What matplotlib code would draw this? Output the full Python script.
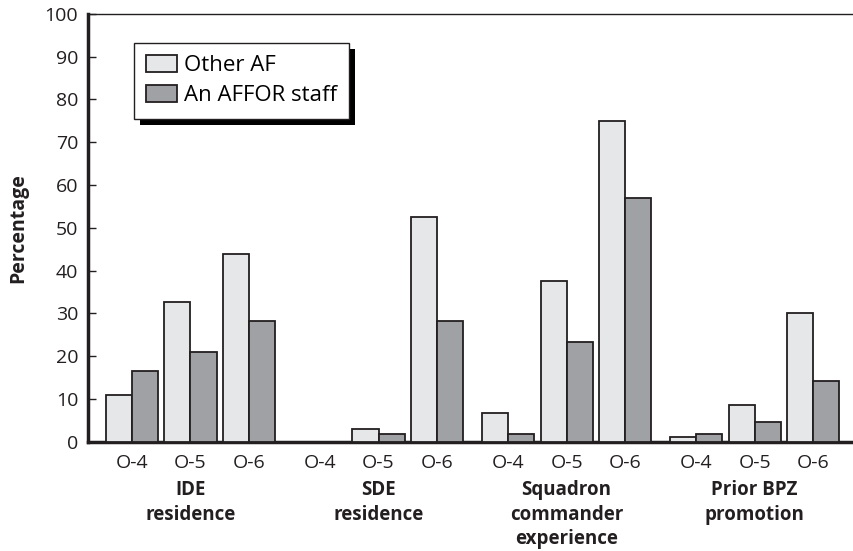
import numpy as np
import matplotlib.pyplot as plt
from matplotlib.patches import Rectangle
from matplotlib.transforms import IdentityTransform

plt.rcParams['font.family'] = ['Open Sans', 'DejaVu Sans']

groups = ['IDE\nresidence', 'SDE\nresidence', 'Squadron\ncommander\nexperience', 'Prior BPZ\npromotion']
grades = ['O-4', 'O-5', 'O-6']
other_af = [11.0, 32.7, 44.0, 0.0, 3.0, 52.5, 6.8, 37.5, 75.0, 1.2, 8.6, 30.0]
affor = [16.6, 21.0, 28.3, 0.0, 1.9, 28.3, 1.9, 23.3, 57.0, 1.9, 4.6, 14.3]

# pair positions: 1 unit between grades, a bit more between groups
gap = 1.214
pos = np.array([g * (2 + gap) + i for g in range(len(groups)) for i in range(len(grades))])
w = 0.445

fig = plt.figure(figsize=(8.54, 5.51), dpi=100)
ax = fig.add_axes([0.103, 0.198, 0.897, 0.777])

edge = '#231f20'
ax.bar(pos - w / 2, other_af, w, color='#e6e7e8', edgecolor=edge, linewidth=1.3, label='Other AF', zorder=3)
ax.bar(pos + w / 2, affor, w, color='#a0a1a4', edgecolor=edge, linewidth=1.3, label='An AFFOR staff', zorder=3)

ax.set_ylim(0, 100)
ax.set_xlim(-0.752, 12.34)
ax.set_yticks(range(0, 101, 10))
ax.set_xticks(pos)
ax.set_xticklabels(grades * len(groups))
ax.tick_params(axis='y', direction='in', length=6, width=1, labelsize=14, pad=7, colors=edge)
ax.tick_params(axis='x', length=0, labelsize=14, pad=9, colors=edge)

ax.spines['left'].set_linewidth(2.5)
ax.spines['bottom'].set_linewidth(2.5)
ax.spines['top'].set_linewidth(1)
ax.spines['right'].set_visible(False)
for s in ax.spines.values():
    s.set_color(edge)

ax.set_ylabel('Percentage', fontsize=14, fontweight='bold', color=edge)
ax.yaxis.set_label_coords(-0.078, 0.5)

for g, name in enumerate(groups):
    ax.text(pos[g * 3 + 1], -9.0, name, ha='center', va='top', fontsize=13.5,
            fontweight='bold', linespacing=1.3, color=edge)

leg = ax.legend(loc='upper left', bbox_to_anchor=(0.06, 0.932), fontsize=16,
                frameon=True, fancybox=False, edgecolor=edge, handlelength=1.4,
                handleheight=0.8, handletextpad=0.3, borderpad=0.55, labelspacing=0.4,
                borderaxespad=0)
leg.get_frame().set_linewidth(1)
leg.get_frame().set_alpha(1)
leg.set_zorder(5)

# black drop shadow behind the legend box
fig.canvas.draw()
bb = leg.get_frame().get_window_extent()
shadow = Rectangle((bb.x0 + 6, bb.y0 - 6), bb.width, bb.height, transform=IdentityTransform(),
                   facecolor='black', edgecolor='none', zorder=4, clip_on=False)
ax.add_artist(shadow)

fig.savefig('out.png', dpi=100)
